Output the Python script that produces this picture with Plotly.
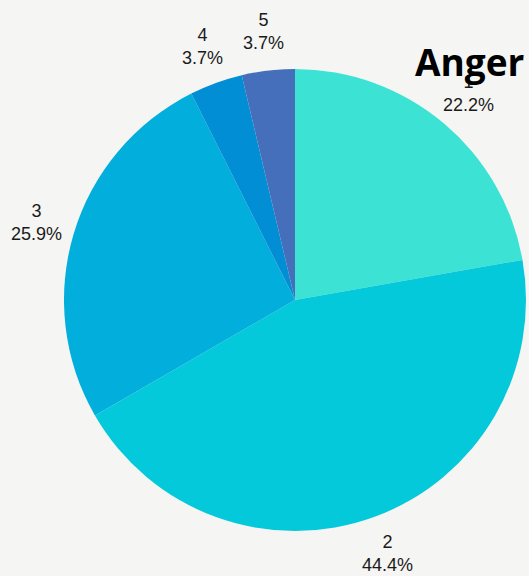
import math
import plotly.graph_objects as go

labels = ["1", "2", "3", "4", "5"]
values = [6, 12, 7, 1, 1]
colors = ["#3ce3d4", "#03c9db", "#02aedb", "#028ed4", "#456ebb"]
title_text = "Anger"

W, H = 529, 576
CX, CY, R = 295, 300, 231       # pie centre / radius in pixels
LABEL_R = 270                   # radius at which slice labels sit

fig = go.Figure(go.Pie(
    labels=labels,
    values=values,
    sort=False,
    direction="clockwise",
    rotation=0,
    marker=dict(colors=colors, line=dict(width=0)),
    textinfo="none",
    hoverinfo="label+percent",
    showlegend=False,
    domain=dict(x=[(CX - R) / W, (CX + R) / W], y=[1 - (CY + R) / H, 1 - (CY - R) / H]),
))

total = sum(values)
cum = 0
for lab, v in zip(labels, values):
    mid = (cum + v / 2) / total * 2 * math.pi
    cum += v
    px = CX + LABEL_R * math.sin(mid)
    py = CY - LABEL_R * math.cos(mid)
    fig.add_annotation(
        text=f"{lab}<br>{v / total * 100:.1f}%",
        x=px / W, y=1 - py / H, xref="paper", yref="paper",
        xanchor="center", yanchor="middle", showarrow=False,
        font=dict(family="Liberation Sans, Arial, sans-serif", size=18, color="#1a1a1a"),
    )

fig.add_annotation(
    text="<b>" + title_text + "</b>", x=470 / W, y=1 - 61 / H,
    xref="paper", yref="paper", xanchor="center", yanchor="middle",
    showarrow=False, font=dict(family="Open Sans", size=37, color="#000000"),
)

fig.update_layout(
    width=W, height=H,
    margin=dict(l=0, r=0, t=0, b=0, autoexpand=False),
    paper_bgcolor="#f5f5f3",
    plot_bgcolor="#f5f5f3",
)
fig.write_html(
    "out.html",
    config={"displayModeBar": False},
    post_script="document.body.style.margin='0';document.body.style.overflow='hidden';",
)
